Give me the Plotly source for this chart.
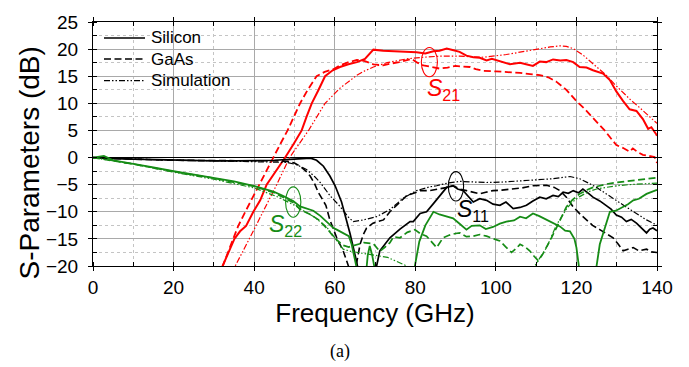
import plotly.graph_objects as go

# ---------------- data ----------------
# S21
s21_si_f = [31.0, 32.2, 33.5, 35.1, 36.5, 38.0, 39.8, 41.5, 43.1, 45.5, 47.7, 49.8, 51.8, 53.0, 54.3, 56.0, 57.6, 59.5, 61.3, 63.4,
            65.5, 67.5, 69.6, 72.0, 75.0, 78.0, 80.3, 82.5, 84.5, 86.0, 87.8, 89.5, 91.0, 92.7, 94.4, 96.0, 97.7, 99.0, 100.2, 101.8,
            103.5, 106.0, 107.5, 109.2, 110.9, 112.5, 114.2, 116.0, 117.5, 119.2, 120.8, 122.5, 124.1, 126.6, 128.3, 129.9, 131.6, 133.2, 134.9, 136.5,
            137.8, 138.6, 139.8, 140.0]
s21_si_db = [-22, -20, -17.8, -15, -13.6, -12.6, -10, -7.9, -5, -2.5, 0, 2.5, 5, 7.5, 10, 12.5, 15, 16.1, 16.7, 17.2,
             17.6, 18.2, 19.9, 19.7, 19.6, 19.5, 19.4, 19.2, 19.6, 19.7, 20.1, 19.8, 19.5, 18.8, 18.5, 18.4, 17.9, 18.2, 17.9, 17.6,
             17.2, 17.5, 17.2, 16.9, 17.7, 17.6, 18.1, 17.9, 18.0, 17.6, 16.7, 16.6, 16.1, 15.5, 14.3, 12.2, 10.4, 8.9, 8.6, 7.1,
             5.3, 5.6, 4.3, 4.0]

s21_ga_f = [31.0, 32.2, 34.8, 36.0, 37.8, 39.5, 41.3, 43.0, 44.8, 46.5, 48.3, 49.8, 51.4, 53.3, 55.5, 57.5, 59.7, 61.3, 63.5, 65.5,
            67.5, 69.6, 72.0, 73.7, 76.0, 79.1, 80.5, 82.0, 84.0, 86.1, 88.0, 90.0, 91.5, 93.6, 95.0, 96.9, 100.0, 102.6, 106.0, 108.5,
            110.9, 113.0, 115.0, 117.5, 120.0, 122.0, 124.1, 127.0, 129.9, 131.5, 133.2, 134.0, 135.2, 136.5, 138.0, 139.4, 140.0]
s21_ga_db = [-22, -20, -15, -12.7, -10, -7.5, -5, -2.5, 0, 2.5, 5, 7.5, 10, 12.5, 15, 15.8, 16.3, 17.0, 17.6, 18.0,
             17.8, 17.2, 17.0, 17.3, 17.6, 18.2, 17.5, 17.0, 16.7, 16.4, 16.6, 16.9, 16.8, 16.7, 16.3, 16.0, 15.9, 15.8, 15.6, 15.4,
             15.2, 14.8, 14.0, 12.5, 10.4, 9.0, 7.4, 5.0, 2.3, 1.8, 1.1, 1.7, 1.0, 0.5, 0.3, 0.1, -1.0]

s21_sim_f = [34.5, 35.3, 38.8, 42.3, 45.6, 48.8, 53.5, 57.6, 61.3, 63.8, 65.5, 67.5, 69.6, 73.0, 77.9, 82.0, 86.1, 91.0, 96.9, 102.6,
             107.0, 110.9, 113.5, 115.9, 117.5, 119.2, 121.5, 124.1, 127.4, 129.5, 131.6, 133.5, 135.7, 137.8, 139.8, 140.0]
s21_sim_db = [-22, -20, -15, -10, -5, 0, 5, 10, 12.8, 14.2, 15.2, 16.0, 16.7, 17.5, 18.2, 18.5, 18.7, 18.7, 18.5, 19.0,
              19.6, 20.1, 20.4, 20.6, 20.5, 20.1, 19.0, 17.3, 15.2, 13.5, 11.9, 10.6, 9.2, 7.8, 6.5, 6.3]

# S11
s11_si_f = [0, 2, 5, 10, 15, 20, 25, 30, 35, 40, 45, 50, 53, 54, 55.5, 57.2, 58.8, 60.1, 61.7, 62.6,
            63.8, 65.0, 65.8, 66.5, 68.0, 70.4, 71.2, 73.7, 76.2, 78.7, 79.5, 81.2, 82.8, 84.5, 86.0, 87.8, 89.4, 90.5, 91.9, 93.0,
            94.4, 96.0, 97.7, 99.3, 101.0, 102.5, 104.3, 106.0, 107.6, 109.2, 110.9, 112.5, 114.2, 115.5, 116.7, 118.0, 119.2, 120.5, 121.6, 123.0,
            124.1, 125.8, 127.4, 128.6, 129.9, 131.2, 132.4, 133.6, 134.9, 136.2, 137.4, 138.2, 139.0, 140.0]
s11_si_db = [0, -0.1, -0.2, -0.3, -0.4, -0.5, -0.6, -0.6, -0.6, -0.6, -0.5, -0.3, -0.1, -0.1, -0.5, -1.6, -3.4, -5.2, -8.2, -10.5,
             -14.0, -17.8, -20.5, -23, -28, -20, -17.2, -14.8, -13.2, -11.8, -11.8, -10.3, -10.0, -8.5, -7.2, -5.5, -5.2, -5.8, -6.1, -7.0,
             -8.2, -7.6, -7.9, -8.6, -8.8, -8.2, -9.4, -9.2, -8.8, -8.0, -7.3, -7.6, -7.0, -7.2, -6.4, -6.6, -6.1, -6.5, -5.8, -6.6,
             -7.3, -8.0, -8.8, -9.5, -10.6, -11.0, -11.8, -11.4, -12.1, -13.0, -13.9, -13.2, -13.0, -13.5]

s11_ga_f = [0, 5, 10, 20, 30, 40, 45, 48.1, 50, 51.4, 52.7, 53.9, 55.0, 55.9, 57.8, 58.8, 60.5, 62.1, 63.4, 64.2,
            64.8, 65.3, 66.3, 67.1, 67.9, 69.5, 72.1, 73.7, 75.4, 77.9, 80.3, 81.2, 83.6, 86.1, 88.0, 89.4, 91.0, 92.7, 94.5, 96.0,
            97.5, 99.3, 101.5, 104.3, 106.5, 109.2, 112.6, 114.5, 115.9, 117.5, 119.2, 121.0, 122.5, 124.0, 125.8, 127.5, 129.1, 130.4, 131.6, 132.8,
            134.1, 135.5, 137.4, 138.6, 139.8, 140.0]
s11_ga_db = [0, -0.2, -0.3, -0.5, -0.6, -0.6, -0.6, -0.7, -1.0, -1.6, -2.4, -3.4, -4.8, -6.4, -8.8, -11.5, -14.8, -17.2, -20, -22,
             -22, -20, -16.0, -14.2, -13.0, -12.1, -11.5, -10.0, -8.8, -7.0, -6.4, -6.1, -6.1, -5.8, -5.5, -5.2, -5.8, -6.1, -6.5, -6.7,
             -6.4, -6.1, -6.0, -5.8, -5.6, -5.2, -5.1, -5.5, -6.1, -7.3, -9.1, -10.5, -11.5, -12.5, -13.3, -14.0, -14.8, -16.0, -17.2, -16.9,
             -16.6, -17.2, -16.9, -17.4, -17.5, -17.5]

s11_sim_f = [0, 10, 20, 30, 40, 45, 48.1, 50.5, 53.0, 55.0, 56.4, 58.8, 61.3, 63.4, 64.6, 67.1, 70.4, 73.7, 77.0, 80.3,
             83.6, 85.3, 88.0, 91.1, 95.0, 97.7, 102.0, 106.0, 110.0, 114.2, 118.4, 120.8, 123.0, 125.0, 127.0, 129.1, 131.5, 133.6, 135.5, 137.4,
             139.8, 140.0]
s11_sim_db = [0, -0.3, -0.5, -0.6, -0.7, -0.8, -0.9, -1.3, -2.2, -3.5, -4.6, -7.0, -9.0, -11.0, -11.8, -11.5, -10.9, -9.6, -7.5, -6.1,
              -5.4, -5.2, -4.7, -4.4, -4.5, -4.6, -4.5, -4.3, -4.1, -3.9, -3.5, -3.9, -4.7, -5.5, -6.5, -7.6, -8.7, -9.7, -10.6, -11.5,
              -12.4, -12.5]

# S22
s22_si_f = [0, 2.7, 5, 9.2, 15, 20, 25, 29.9, 35, 39.8, 44.8, 47.0, 49.7, 51.4, 53.0, 54.7, 56.5, 58.0, 59.7, 60.5,
            62.1, 63.5, 64.2, 65.0, 65.6, 66.5, 67.7, 68.2, 68.7, 69.3, 69.8, 70.5, 75.0, 79.5, 79.9, 81.0, 82.5, 84.5, 86.0, 87.5,
            89.4, 91.0, 92.7, 94.0, 96.0, 97.5, 99.3, 101.0, 102.6, 104.5, 106.0, 107.5, 109.2, 110.8, 112.6, 114.2, 115.9, 117.2, 118.4, 119.5,
            120.0, 120.6, 121.0, 123.0, 124.5, 125.0, 125.8, 127.4, 128.3, 129.8, 131.6, 132.8, 134.1, 135.5, 137.4, 138.6, 139.8, 140.0]
s22_si_db = [0, 0.3, -0.5, -1.1, -1.8, -2.5, -3.1, -3.7, -4.4, -5.2, -6.3, -7.0, -8.0, -9.0, -9.4, -9.8, -10.8, -11.8, -13.0, -13.3,
             -13.9, -14.5, -16.0, -18.5, -20.5, -24, -22, -18, -16.3, -18, -20, -23, -30, -22, -20, -15.5, -12.5, -10.0, -10.5, -10.8,
             -11.2, -12.2, -13.3, -12.6, -12.5, -13.2, -12.8, -12.2, -11.8, -11.6, -10.9, -11.2, -10.3, -10.8, -11.5, -12.0, -12.7, -13.5, -13.6, -15.0,
             -16.6, -20, -23, -30, -23, -20, -16, -12, -10.0, -9.8, -9.1, -8.6, -7.9, -7.6, -6.7, -6.3, -6.0, -6.0]

s22_ga_f = [0, 5, 10, 20, 30, 40, 45, 50, 51.4, 54, 56, 58, 59.7, 61.0, 62.1, 63.5, 65.0, 67.2, 69.6, 71.2,
            72.5, 73.7, 74.6, 76.2, 78.0, 79.9, 81.2, 82.8, 84.0, 85.3, 86.9, 88.5, 90.0, 91.1, 92.7, 94.4, 96.0, 97.7, 99.5, 101.0,
            102.5, 103.9, 105.0, 106.0, 107.3, 108.4, 109.5, 110.5, 111.5, 112.6, 113.8, 115.0, 116.3, 117.5, 119.0, 120.8, 122.5, 124.1, 125.8, 127.4,
            130.0, 132.4, 135.0, 137.5, 139.8, 140.0]
s22_ga_db = [0, -0.6, -1.2, -2.6, -3.8, -5.3, -6.5, -8.4, -9.6, -10.5, -11.5, -13.0, -14.6, -15.5, -16.2, -16.5, -16.2, -15.7, -15.9, -17.3,
             -16.5, -15.7, -14.6, -14.8, -13.8, -13.3, -14.0, -14.5, -15.5, -16.6, -14.8, -14.3, -14.0, -13.9, -14.6, -14.5, -14.2, -14.5, -15.0, -15.4,
             -16.5, -17.5, -16.8, -16.0, -16.5, -17.2, -18.2, -19.0, -18.0, -16.6, -14.8, -13.0, -11.0, -9.1, -7.8, -6.7, -6.0, -5.5, -5.2, -4.9,
             -4.6, -4.4, -4.1, -3.9, -3.7, -3.7]

s22_sim_f = [0, 10, 20, 30, 40, 46, 50, 52, 55, 58, 59.7, 62.1, 64.0, 67.9, 73.1, 77.9, 79.0, 95.0, 108.0, 110.5,
             112.6, 115.0, 117.5, 119.0, 120.8, 123.0, 125.0, 127.4, 130.0, 133.0, 136.0, 139.8, 140.0]
s22_sim_db = [0, -1.2, -2.7, -4.0, -5.6, -7.3, -8.8, -9.7, -11.0, -12.8, -14.5, -16.9, -17.3, -17.8, -18.4, -20, -21, -26, -22, -19.0,
              -16.6, -12.5, -9.5, -8.2, -7.2, -6.3, -5.8, -5.5, -5.2, -5.0, -4.9, -4.7, -4.7]

x_ticks = [0, 20, 40, 60, 80, 100, 120, 140]
y_ticks = [-20, -15, -10, -5, 0, 5, 10, 15, 20, 25]
legend_names = ["Silicon", "GaAs", "Simulation"]

# ---------------- styles ----------------
RED = "#ff0000"
BLACK = "#000000"
GREEN = "#168c16"
DASH_GA = "7px,3.5px"
DASH_SIM = "6px,2px,1.5px,2px,1.5px,2px"
FONT = "Liberation Sans, Arial, sans-serif"

series = [
    (s21_si_f, s21_si_db, RED, "solid", 2.0),
    (s21_ga_f, s21_ga_db, RED, DASH_GA, 1.8),
    (s21_sim_f, s21_sim_db, RED, DASH_SIM, 1.2),
    (s11_si_f, s11_si_db, BLACK, "solid", 1.7),
    (s11_ga_f, s11_ga_db, BLACK, DASH_GA, 1.6),
    (s11_sim_f, s11_sim_db, BLACK, DASH_SIM, 1.2),
    (s22_si_f, s22_si_db, GREEN, "solid", 1.8),
    (s22_ga_f, s22_ga_db, GREEN, DASH_GA, 1.7),
    (s22_sim_f, s22_sim_db, GREEN, DASH_SIM, 1.2),
]

fig = go.Figure()
for f, d, c, dash, w in series:
    assert len(f) == len(d), (len(f), len(d))
    fig.add_trace(go.Scatter(x=f, y=d, mode="lines", showlegend=False,
                             line=dict(color=c, dash=dash, width=w)))

W, H = 689, 367
L, R, T, B = 93, 32, 16, 101
pw, ph = W - L - R, H - T - B


def px(xp):
    return (xp - L) / pw


def py(yp):
    return (H - B - yp) / ph


shapes = []
annotations = []

# legend box (hides the grid behind it)
shapes.append(dict(type="rect", xref="paper", yref="paper", x0=0, x1=px(233), y0=py(83), y1=1,
                   fillcolor="white", line=dict(width=0), layer="below"))
rows = [32.3, 54, 76]
for name, dash, ry in zip(legend_names, ["solid", DASH_GA, DASH_SIM], rows):
    shapes.append(dict(type="line", xref="paper", yref="paper", x0=px(104), x1=px(145), y0=py(ry), y1=py(ry),
                       line=dict(color=BLACK, width=1.5 if dash != DASH_SIM else 1.2, dash=dash)))
    annotations.append(dict(text=name, xref="paper", yref="paper", x=px(149), y=py(ry), xanchor="left",
                            yanchor="middle", showarrow=False, font=dict(family=FONT, size=17, color=BLACK)))

# ellipses + labels
marks = [
    ((81.5, 85.5, 14.9, 20.3), RED, "<i>S</i><sub>21</sub>", 86.9, 12.5),
    ((88.2, 92.0, -8.0, -2.6), BLACK, "<i>S</i><sub>11</sub>", 94.4, -9.7),
    ((47.8, 51.6, -11.0, -5.4), GREEN, "<i>S</i><sub>22</sub>", 47.7, -12.6),
]
for (x0, x1, y0, y1), c, txt, tx, ty in marks:
    shapes.append(dict(type="circle", xref="x", yref="y", x0=x0, x1=x1, y0=y0, y1=y1,
                       line=dict(color=c, width=1.1)))
    annotations.append(dict(text=txt, xref="x", yref="y", x=tx, y=ty, showarrow=False,
                            xanchor="center", yanchor="middle",
                            font=dict(family=FONT, size=23, color=c)))

# y title
annotations.append(dict(text="S-Parameters (dB)", xref="paper", yref="paper", x=px(30), y=py(161),
                        textangle=-90, showarrow=False, xanchor="center", yanchor="middle",
                        font=dict(family=FONT, size=28, color=BLACK)))
# caption
annotations.append(dict(text="(a)", xref="paper", yref="paper", x=px(340), y=py(354), showarrow=False,
                        xanchor="center", yanchor="middle",
                        font=dict(family="Liberation Serif, Times New Roman, serif", size=18, color=BLACK)))

axis_common = dict(showline=True, linecolor=BLACK, linewidth=1, mirror="ticks",
                   ticks="outside", ticklen=4, tickcolor=BLACK,
                   showgrid=True, gridcolor="#a9a9a9", gridwidth=1,
                   tickfont=dict(family=FONT, size=19, color=BLACK))

fig.update_xaxes(range=[0, 140], tickvals=x_ticks, zeroline=False,
                 minor=dict(dtick=10, tick0=0, ticks="inside", ticklen=4, tickcolor=BLACK,
                            showgrid=True, gridcolor="#c4c4c4", griddash="dot", gridwidth=1),
                 title=dict(text="Frequency (GHz)", font=dict(family=FONT, size=26, color=BLACK), standoff=4),
                 **axis_common)
fig.update_yaxes(range=[-20, 25], tickvals=y_ticks, zeroline=True, zerolinecolor=BLACK, zerolinewidth=1.2,
                 minor=dict(dtick=2.5, tick0=0, ticks="inside", ticklen=4, tickcolor=BLACK,
                            showgrid=True, gridcolor="#c4c4c4", griddash="dot", gridwidth=1),
                 ticklabelstandoff=6,
                 **axis_common)

fig.update_layout(width=W, height=H, margin=dict(l=L, r=R, t=T, b=B, pad=0),
                  paper_bgcolor="white", plot_bgcolor="white",
                  shapes=shapes, annotations=annotations, showlegend=False,
                  font=dict(family=FONT, color=BLACK))

fig.write_html("out.html")
